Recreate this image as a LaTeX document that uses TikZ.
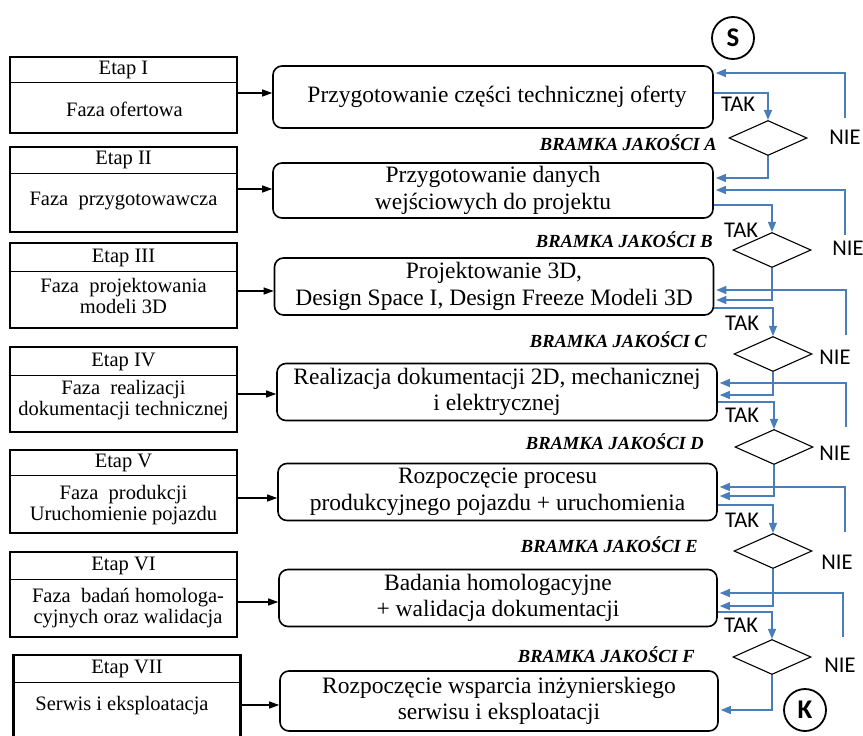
\documentclass[tikz,border=0pt]{standalone}
\usepackage{fontspec}
\setmainfont{Liberation Serif}
\newfontfamily\sansf{Carlito}
\usetikzlibrary{arrows.meta,shapes.geometric}
\definecolor{lineblue}{RGB}{74,126,187}
\tikzset{
  etapbox/.style={draw, line width=2.6pt, minimum width=227pt, inner sep=0pt},
  etaptxt/.style={font=\fontsize{20.5}{21}\selectfont, align=center, inner sep=0pt},
  procbox/.style={draw, line width=1.6pt, rounded corners=9pt, inner sep=0pt,
    font=\fontsize{23.5}{26.5}\selectfont, align=center},
  gate/.style={draw, diamond, line width=1.1pt, minimum width=78pt, minimum height=35pt, inner sep=0pt},
  gatelbl/.style={font=\fontsize{18.5}{20}\selectfont\bfseries\itshape, anchor=east, inner sep=0pt},
  yn/.style={font=\sansf\fontsize{22.5}{24}\selectfont, inner sep=0pt},
  term/.style={draw, circle, line width=1.8pt, minimum size=42pt, inner sep=0pt,
    font=\sansf\bfseries\fontsize{27}{27}\selectfont},
  blk/.style={line width=1.1pt, -{Triangle[length=10pt,width=7pt]}},
  blu/.style={draw=lineblue, line width=1.3pt, -{Triangle[length=10pt,width=8pt]}, shorten >=2pt},
  blul/.style={draw=lineblue, line width=1.3pt}
}
\begin{document}
\begin{tikzpicture}[x=1pt,y=-1pt]
\clip (0,0) rectangle (863,736);
\fill[white] (0,0) rectangle (863,736);

% ---- left stage boxes ----
\node[etapbox, minimum height=76pt] (e1) at (123.5,95) {};
\node[etapbox, minimum height=85pt] (e2) at (123.5,189.5) {};
\node[etapbox, minimum height=85pt] (e3) at (123.5,285.5) {};
\node[etapbox, minimum height=85pt] (e4) at (123.5,389.5) {};
\node[etapbox, minimum height=83pt] (e5) at (123.5,491.5) {};
\node[etapbox, minimum height=85pt] (e6) at (123.5,594.5) {};
\node[etapbox, minimum height=95pt] (e7) at (127,702.5) {};

\coordinate (d1) at (0,82);
\coordinate (d2) at (0,173);
\coordinate (d3) at (0,271);
\coordinate (d4) at (0,375);
\coordinate (d5) at (0,475);
\coordinate (d6) at (0,579);
\coordinate (d7) at (0,682);
\foreach \i in {1,...,7}{\draw[line width=1pt] (e\i.west |- d\i) -- (e\i.east |- d\i);}

\node[etaptxt] (e1t) at (123.5,70) {Etap I};
\node[etaptxt] (e1b) at (124.5,109) {Faza ofertowa};
\node[etaptxt] (e2t) at (123.5,160) {Etap II};
\node[etaptxt] (e2b) at (123.5,201) {Faza\ \ przygotowawcza};
\node[etaptxt] (e3t) at (123.5,258) {Etap III};
\node[etaptxt] (e3b) at (123.5,296) {Faza\ \ projektowania\\modeli 3D};
\node[etaptxt] (e4t) at (123.5,362) {Etap IV};
\node[etaptxt] (e4b) at (123.5,400) {Faza\ \ realizacji\\dokumentacji technicznej};
\node[etaptxt] (e5t) at (123.5,463) {Etap V};
\node[etaptxt] (e5b) at (123.5,505) {Faza\ \ produkcji\\Uruchomienie pojazdu};
\node[etaptxt] (e6t) at (123.5,566) {Etap VI};
\node[etaptxt] (e6b) at (128,608) {Faza\ \ badań homologa-\\cyjnych oraz walidacja};
\node[etaptxt] (e7t) at (127,669) {Etap VII};
\node[etaptxt] (e7b) at (122,706) {Serwis i eksploatacja};

% ---- process boxes ----
\node[procbox, minimum width=440pt, minimum height=62pt] (pA) at (493,97) {\hspace*{8pt}Przygotowanie części technicznej oferty};
\node[procbox, minimum width=440pt, minimum height=55pt] (pB) at (493,190.5) {Przygotowanie danych\\wejściowych do projektu};
\node[procbox, minimum width=439pt, minimum height=57pt] (pC) at (494,286.5) {Projektowanie 3D,\\Design Space I, Design Freeze Modeli 3D};
\node[procbox, minimum width=440pt, minimum height=57pt] (pD) at (497,392) {Realizacja dokumentacji 2D, mechanicznej\\i elektrycznej};
\node[procbox, minimum width=439pt, minimum height=57pt] (pE) at (497.5,492) {Rozpoczęcie procesu\\produkcyjnego pojazdu + uruchomienia};
\node[procbox, minimum width=438pt, minimum height=57pt] (pF) at (498,598) {Badania homologacyjne\\+ walidacja dokumentacji};
\node[procbox, minimum width=438pt, minimum height=60pt] (pG) at (499,701) {Rozpoczęcie wsparcia inżynierskiego\\serwisu i eksploatacji};

% ---- stage -> process arrows ----
\coordinate (a1) at (0,93);
\coordinate (a2) at (0,189);
\coordinate (a3) at (0,291);
\coordinate (a4) at (0,394);
\coordinate (a5) at (0,498);
\coordinate (a6) at (0,602);
\coordinate (a7) at (0,705);
\draw[blk] (e1.east |- a1) -- (pA.west |- a1);
\draw[blk] (e2.east |- a2) -- (pB.west |- a2);
\draw[blk] (e3.east |- a3) -- (pC.west |- a3);
\draw[blk] (e4.east |- a4) -- (pD.west |- a4);
\draw[blk] (e5.east |- a5) -- (pE.west |- a5);
\draw[blk] (e6.east |- a6) -- (pF.west |- a6);
\draw[blk] (e7.east |- a7) -- (pG.west |- a7);

% ---- quality gates ----
\node[gate] (gA) at (768,138) {};
\node[gate] (gB) at (772,250) {};
\node[gate] (gC) at (773,354) {};
\node[gate] (gD) at (774,447) {};
\node[gate] (gE) at (773,551) {};
\node[gate] (gF) at (772,657) {};

\node[gatelbl] (lA) at (717,143) {BRAMKA JAKOŚCI A};
\node[gatelbl] (lB) at (713,240) {BRAMKA JAKOŚCI B};
\node[gatelbl] (lC) at (707,340) {BRAMKA JAKOŚCI C};
\node[gatelbl] (lD) at (704,442) {BRAMKA JAKOŚCI D};
\node[gatelbl] (lE) at (698,545) {BRAMKA JAKOŚCI E};
\node[gatelbl] (lF) at (695,655) {BRAMKA JAKOŚCI F};

% ---- terminals ----
\node[term] (S) at (733,38) {S};
\node[term] (K) at (805,710) {K};

% ---- TAK paths: process -> gate ----
\coordinate (tA) at (0,93);
\coordinate (tB) at (0,205);
\coordinate (tC) at (0,308);
\coordinate (tD) at (0,402);
\coordinate (tE) at (0,505);
\coordinate (tF) at (0,612);
\draw[blu, shorten >=0pt] (pA.east |- tA) -| (gA.north);
\draw[blu, shorten >=0pt] (pB.east |- tB) -| (gB.north);
\draw[blu, shorten >=0pt] (pC.east |- tC) -| (gC.north);
\draw[blu, shorten >=0pt] (pD.east |- tD) -| (gD.north);
\draw[blu, shorten >=0pt] (pE.east |- tE) -| (gE.north);
\draw[blu, shorten >=0pt] (pF.east |- tF) -| (gF.north);

\node[yn] (takA) at (738,104) {TAK};
\node[yn] (takB) at (741,230) {TAK};
\node[yn] (takC) at (742,323) {TAK};
\node[yn] (takD) at (742,415) {TAK};
\node[yn] (takE) at (742,520) {TAK};
\node[yn] (takF) at (741,625) {TAK};

% ---- gate -> next process ----
\coordinate (iB) at (0,178);
\coordinate (iC) at (0,300);
\coordinate (iD) at (0,395);
\coordinate (iE) at (0,496);
\coordinate (iF) at (0,606);
\coordinate (iG) at (0,710);
\draw[blu] (gA.south) |- (pB.east |- iB);
\draw[blu] (gB.south) |- (pC.east |- iC);
\draw[blu] (gC.south) |- (pD.east |- iD);
\draw[blu] (gD.south) |- (pE.east |- iE);
\draw[blu] (gE.south) |- (pF.east |- iF);
\draw[blu] (gF.south) |- (pG.east |- iG);

% ---- NIE loops: back to same process ----
\coordinate (nA) at (845,118);
\coordinate (nB) at (845,235);
\coordinate (nC) at (846,335);
\coordinate (nD) at (846,427);
\coordinate (nE) at (845,532);
\coordinate (nF) at (843,637);
\coordinate (rA) at (0,73);
\coordinate (rB) at (0,190);
\coordinate (rC) at (0,290);
\coordinate (rD) at (0,383);
\coordinate (rE) at (0,487);
\coordinate (rF) at (0,593);
\draw[blu] (nA) |- (pA.east |- rA);
\draw[blu] (nB) |- (pB.east |- rB);
\draw[blu] (nC) |- (pC.east |- rC);
\draw[blu] (nD) |- (pD.east |- rD);
\draw[blu] (nE) |- (pE.east |- rE);
\draw[blu] (nF) |- (pF.east |- rF);

\node[yn] (nieA) at (845,137) {NIE};
\node[yn] (nieB) at (848,248) {NIE};
\node[yn] (nieC) at (835,357) {NIE};
\node[yn] (nieD) at (835,453) {NIE};
\node[yn] (nieE) at (837,562) {NIE};
\node[yn] (nieF) at (840,665) {NIE};
\end{tikzpicture}
\end{document}
